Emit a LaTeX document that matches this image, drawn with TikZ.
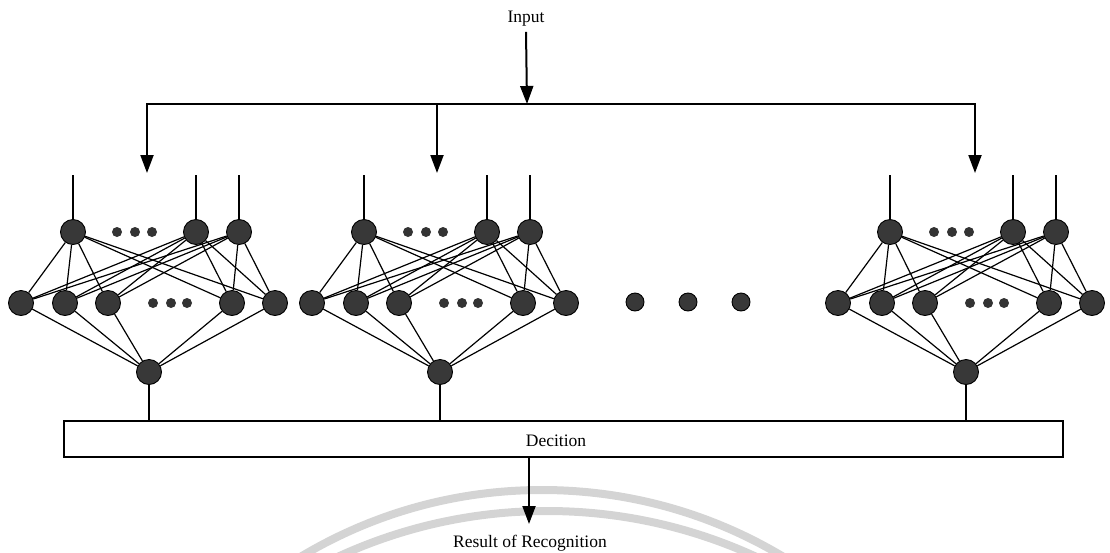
\documentclass[tikz,border=0pt]{standalone}
\usepackage{fontspec}
\setmainfont{Liberation Serif}
\usetikzlibrary{arrows.meta}
\begin{document}
\begin{tikzpicture}[x=1pt,y=-1pt,
  neuron/.style={circle,fill=black!78,draw=black,line width=0.9pt,minimum size=25pt,inner sep=0pt},
  dotsmall/.style={circle,fill=black!80,draw=none,minimum size=10pt,inner sep=0pt},
  dotbig/.style={circle,fill=black!78,draw=black,line width=0.9pt,minimum size=18pt,inner sep=0pt},
  link/.style={line width=1.2pt,black},
  flow/.style={line width=2pt,-{Triangle[length=18pt,width=13pt]}},
  caption/.style={font=\fontsize{17.5}{20}\selectfont,inner sep=0pt},
  watermark/.style={line width=8pt,black!17}]
\useasboundingbox (0,0) rectangle (1110,552);

% faint arcs behind the output
\begin{scope}
  \clip (0,0) rectangle (1110,552);
  \draw[watermark] (542,959) circle (469pt);
  \draw[watermark] (547,1010) circle (499pt);
\end{scope}

% input and its distribution line
\node[caption,anchor=base] (input) at (526,22) {Input};
\coordinate (split) at (527,104);
\coordinate (hl) at (146,104);
\coordinate (hr) at (976,104);
\draw[line width=2pt] (hl) -- (hr);
\draw[flow] (input.south) ++(0,6) -- (split);

% decision box
\node[draw,line width=1.2pt,minimum width=999pt,minimum height=36pt,inner sep=0pt] (box) at (563.5,439) {};
\node[caption,anchor=base] (dec) at (556,446) {Decition};

% the three networks
\foreach \X/\k/\a in {149/1/147,440/2/437,966/3/975} {
  \node[neuron] (b\k) at (\X,372) {};
  \foreach \dx [count=\i] in {-76,47,90} {
    \node[neuron] (t\k-\i) at (\X+\dx,232) {};
    \coordinate (in\k-\i) at (\X+\dx,175);
    \draw[link] (in\k-\i) -- (t\k-\i);
  }
  \foreach \dx [count=\j] in {-128,-84,-41,83,126}
    \node[neuron] (m\k-\j) at (\X+\dx,303) {};
  \foreach \dx [count=\i] in {-32,-14,3}
    \node[dotsmall] (tdot\k-\i) at (\X+\dx,232) {};
  \foreach \dx [count=\i] in {4,22,38}
    \node[dotsmall] (mdot\k-\i) at (\X+\dx,303) {};
  \foreach \i in {1,2,3}
    \foreach \j in {1,...,5}
      \draw[link] (t\k-\i) -- (m\k-\j);
  \foreach \j in {1,...,5}
    \draw[link] (m\k-\j) -- (b\k);
  \draw[link] (b\k) -- (b\k |- box.north);
  \coordinate (tip\k) at (\a,173);
  \draw[flow] (tip\k |- split) -- (tip\k);
}

% networks left out between the second and the last
\node[dotbig] (gap1) at (635,302) {};
\node[dotbig] (gap2) at (688,302) {};
\node[dotbig] (gap3) at (741,302) {};

% output
\coordinate (res) at (529,524);
\draw[flow] (box.south -| res) -- (res);
\node[caption,anchor=base] (result) at (530,547) {Result of Recognition};
\end{tikzpicture}
\end{document}
